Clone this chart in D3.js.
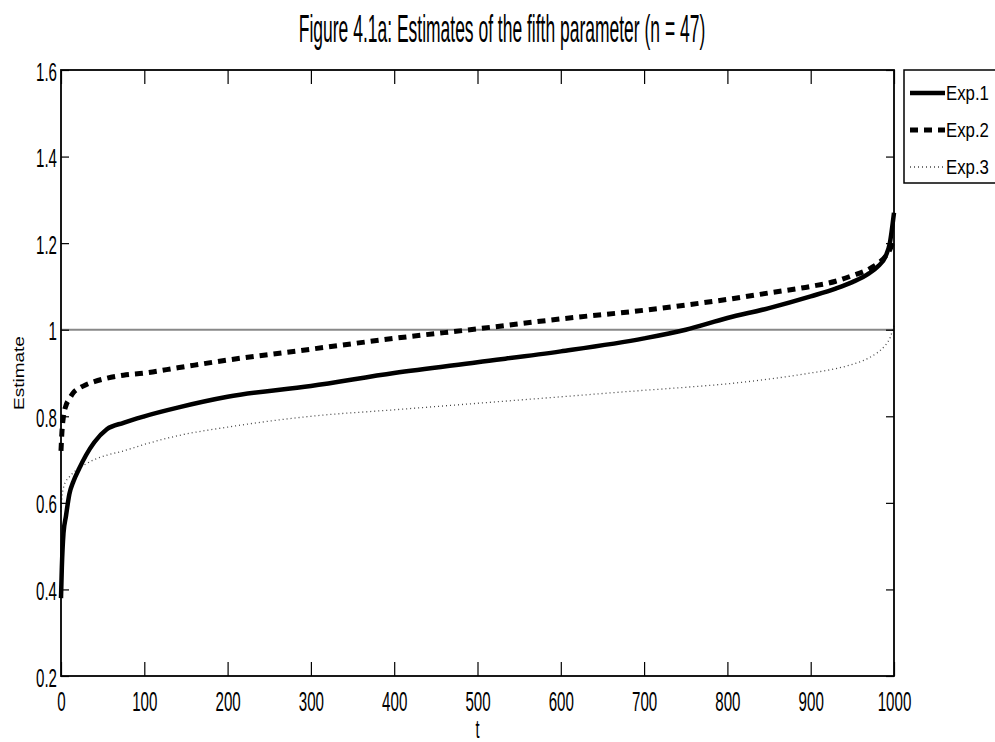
<!DOCTYPE html>
<html>
<head>
<meta charset="utf-8">
<script src="https://cdn.jsdelivr.net/npm/d3@7"></script>
<style>
  body { margin: 0; background: #fff; }
  svg { display: block; }
  text { font-family: "Liberation Sans", Arial, sans-serif; fill: #000; }
</style>
</head>
<body>
<svg id="chart"></svg>
<script>
// sorted estimates
const tVals = [0, 1, 3, 6, 10, 15, 22, 30, 40, 55, 75, 100, 140, 200, 300, 400, 500, 600, 700, 750, 800, 850, 900, 930, 950, 970, 980, 990, 995, 1000]
const exp1 = [0.38, 0.45, 0.53, 0.57, 0.62, 0.65, 0.68, 0.71, 0.74, 0.77, 0.785, 0.80, 0.82, 0.845, 0.87, 0.90, 0.925, 0.95, 0.98, 1.0, 1.027, 1.05, 1.077, 1.095, 1.11, 1.13, 1.145, 1.17, 1.2, 1.27]
const exp2 = [0.72, 0.76, 0.80, 0.825, 0.84, 0.855, 0.865, 0.873, 0.88, 0.888, 0.895, 0.90, 0.912, 0.93, 0.955, 0.98, 1.002, 1.025, 1.045, 1.057, 1.07, 1.085, 1.1, 1.112, 1.125, 1.14, 1.152, 1.17, 1.185, 1.21]
const exp3 = [0.58, 0.61, 0.635, 0.65, 0.66, 0.67, 0.68, 0.69, 0.70, 0.71, 0.72, 0.735, 0.755, 0.775, 0.80, 0.815, 0.83, 0.845, 0.86, 0.867, 0.875, 0.886, 0.90, 0.91, 0.92, 0.935, 0.947, 0.965, 0.98, 1.01]
const seriesNames = ["Exp.1", "Exp.2", "Exp.3"]
const xTicks = [0, 100, 200, 300, 400, 500, 600, 700, 800, 900, 1000]
const yTicks = [0.2, 0.4, 0.6, 0.8, 1, 1.2, 1.4, 1.6]

const width = 995, height = 742
const margin = {left: 61, top: 70, right: 101, bottom: 66}

const svg = d3.select("#chart").attr("width", width).attr("height", height)

const x = d3.scaleLinear().domain([0, 1000]).range([margin.left, width - margin.right])
const y = d3.scaleLinear().domain([0.2, 1.6]).range([height - margin.bottom, margin.top])

const styles = [
    {stroke: "#000", width: 4.5, dash: null},
    {stroke: "#000", width: 5, dash: "8,6"},
    {stroke: "#444", width: 1.3, dash: "1,3"}
]

// the whole figure looks squeezed sideways, so texts get a horizontal scale
function squeeze(sel, px, py, sx) {
    sel.attr("x", 0).attr("y", 0).attr("dy", null)
        .attr("transform", `translate(${px},${py}) scale(${sx},1)`)
}

// reference line at 1
svg.append("line")
    .attr("x1", x(0)).attr("x2", x(1000))
    .attr("y1", y(1)).attr("y2", y(1))
    .attr("stroke", "#888").attr("stroke-width", 2)

const line = d3.line().x((d, i) => x(tVals[i])).y(d => y(d)).curve(d3.curveMonotoneX)

const data = [exp1, exp2, exp3]
// exp3 first so the thick ones sit on top
for (let k = 2; k >= 0; k--) {
    svg.append("path")
        .attr("d", line(data[k]))
        .attr("fill", "none")
        .attr("stroke", styles[k].stroke)
        .attr("stroke-width", styles[k].width)
        .attr("stroke-dasharray", styles[k].dash)
        .attr("stroke-linejoin", "round")
}

// axes, ticks pointing inward like matlab
const axB = svg.append("g").attr("transform", `translate(0,${y(0.2)})`)
    .call(d3.axisBottom(x).tickValues(xTicks).tickSize(-14).tickFormat(d3.format("d")))
const axT = svg.append("g").attr("transform", `translate(0,${y(1.6)})`)
    .call(d3.axisTop(x).tickValues(xTicks).tickSize(-14).tickFormat(""))
const axL = svg.append("g").attr("transform", `translate(${x(0)},0)`)
    .call(d3.axisLeft(y).tickValues(yTicks).tickSize(-8).tickFormat(d => d === 1 ? "1" : d3.format(".1f")(d)))
const axR = svg.append("g").attr("transform", `translate(${x(1000)},0)`)
    .call(d3.axisRight(y).tickValues(yTicks).tickSize(-8).tickFormat(""))

for (const g of [axB, axT, axL, axR]) {
    g.select(".domain").remove()
    g.selectAll("line").attr("stroke", "#000").attr("stroke-width", 1.2)
}
axB.selectAll("text").attr("font-size", 27).attr("text-anchor", "middle")
    .each(function(d) { squeeze(d3.select(this), 0, 35, 0.56) })
axL.selectAll("text").attr("font-size", 26).attr("text-anchor", "end")
    .each(function(d) { squeeze(d3.select(this), -4, 10, 0.58) })

// frame
svg.append("rect")
    .attr("x", x(0)).attr("y", y(1.6))
    .attr("width", x(1000) - x(0)).attr("height", y(0.2) - y(1.6))
    .attr("fill", "none").attr("stroke", "#000").attr("stroke-width", 1.8)

// labels
svg.append("text").text("Figure 4.1a: Estimates of the fifth parameter (n = 47)")
    .attr("font-size", 38).attr("text-anchor", "middle")
    .call(squeeze, 502, 42, 0.46)
svg.append("text").text("t")
    .attr("font-size", 26).attr("text-anchor", "middle")
    .call(squeeze, (x(0) + x(1000)) / 2, 738, 0.56)
svg.append("text").text("Estimate")
    .attr("font-size", 19).attr("text-anchor", "middle")
    .attr("transform", `translate(24,373) rotate(-90) scale(1,0.8)`)

// legend
const leg = svg.append("g")
leg.append("rect")
    .attr("x", 904).attr("y", 70).attr("width", 110).attr("height", 113)
    .attr("fill", "#fff").attr("stroke", "#000").attr("stroke-width", 1.5)
seriesNames.forEach((name, i) => {
    const ly = 93 + i * 37
    leg.append("line")
        .attr("x1", 910).attr("x2", 945).attr("y1", ly).attr("y2", ly)
        .attr("stroke", styles[i].stroke)
        .attr("stroke-width", styles[i].width)
        .attr("stroke-dasharray", styles[i].dash)
    leg.append("text").text(name)
        .attr("font-size", 20)
        .call(squeeze, 946, ly + 7, 0.84)
})
</script>
</body>
</html>
